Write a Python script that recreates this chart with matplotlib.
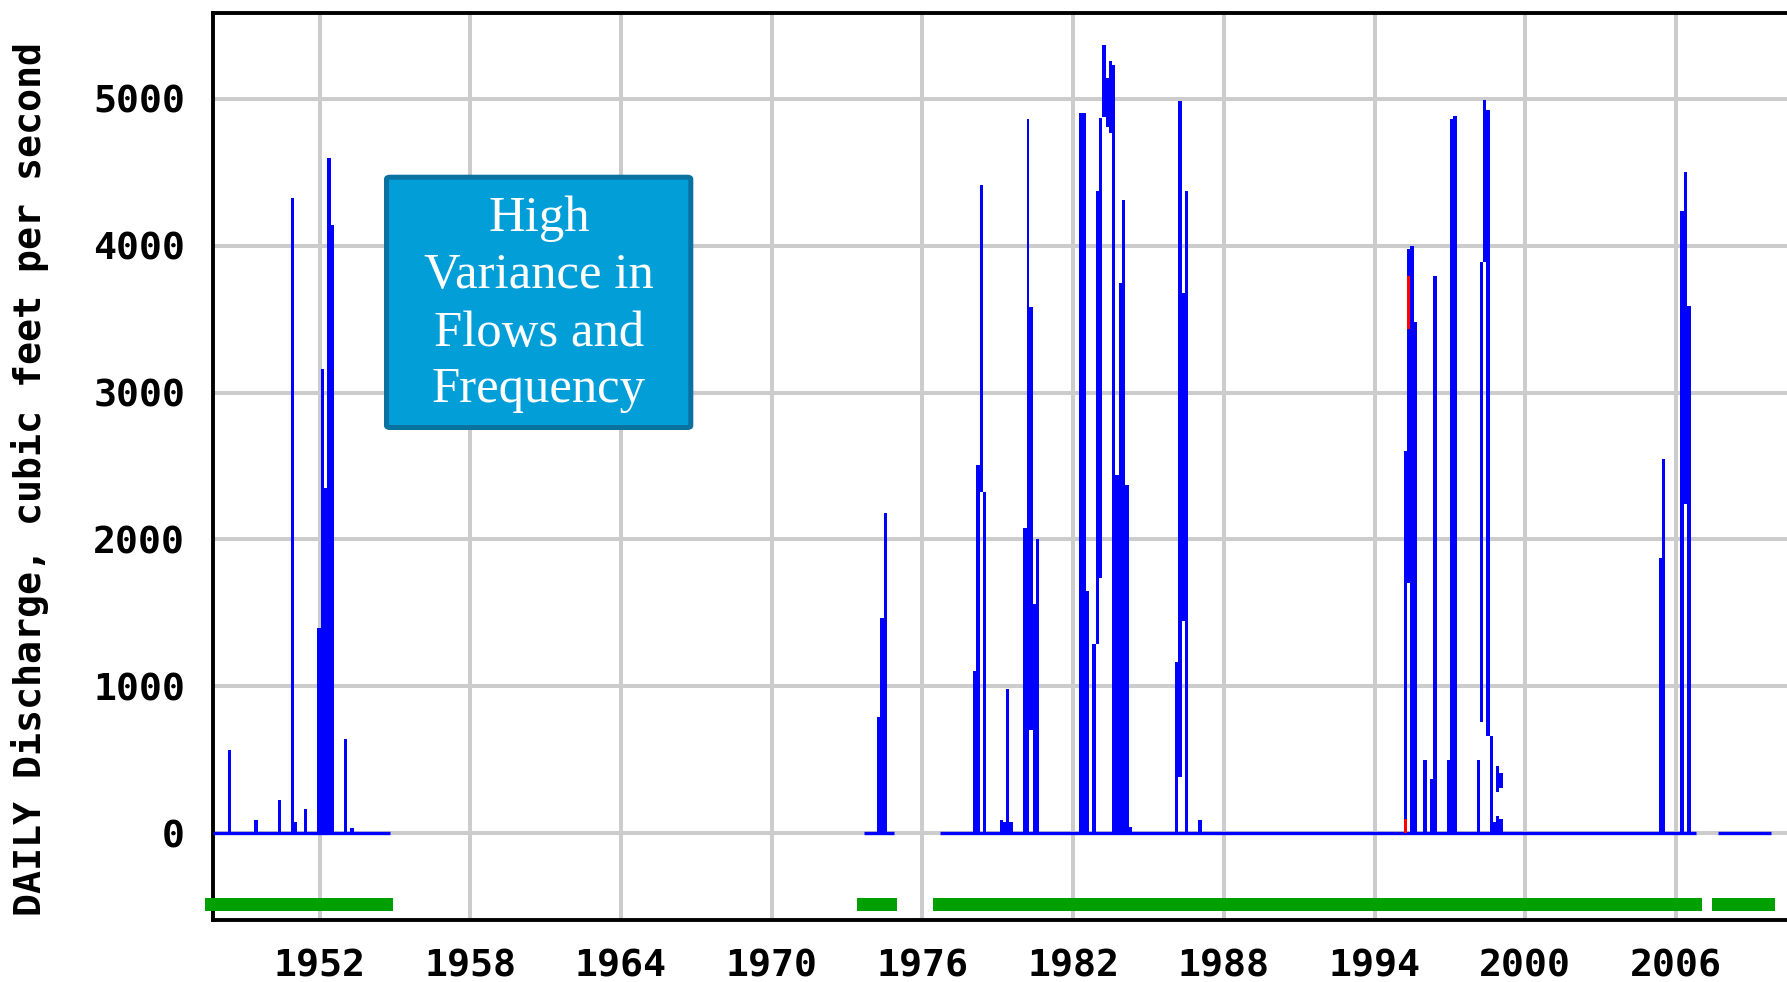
import matplotlib
matplotlib.use("Agg")
import matplotlib.pyplot as plt
from matplotlib.patches import FancyBboxPatch

# ---------------- data ----------------
x_ticks = [1952, 1958, 1964, 1970, 1976, 1982, 1988, 1994, 2000, 2006]
y_ticks = [0, 1000, 2000, 3000, 4000, 5000]

# periods with recorded (zero) daily flow
base_start = [1947.75, 1973.68, 1976.71, 2007.68]
base_end = [1954.80, 1974.87, 2006.81, 2009.79]

# flow events: start (decimal year), end (decimal year),
# daily discharge high (cfs) and low end of the drawn daily swing (cfs)
ev_start = [1948.36, 1949.40, 1950.35, 1950.86, 1950.98, 1951.39,
            1951.90, 1952.06, 1952.17, 1952.30, 1952.46, 1952.98, 1953.22,
            1974.20, 1974.32, 1974.48,
            1978.03, 1978.14, 1978.30, 1978.43, 1979.09, 1979.20, 1979.33, 1979.44,
            1980.00, 1980.16, 1980.25, 1980.41, 1980.53,
            1982.24, 1982.52, 1982.76, 1982.92, 1983.04, 1983.16, 1983.32, 1983.44,
            1983.56, 1983.67, 1983.83, 1983.95, 1984.07, 1984.23,
            1986.06, 1986.18, 1986.34, 1986.46, 1986.98,
            1995.18, 1995.28, 1995.41, 1995.57, 1995.93, 1996.21, 1996.33,
            1996.89, 1997.01, 1997.14,
            1998.06, 1998.21, 1998.33, 1998.45, 1998.61, 1998.73,
            1998.85, 1998.85, 1998.97, 1998.97,
            2005.33, 2005.45, 2006.18, 2006.30, 2006.42]
ev_end = [1948.48, 1949.54, 1950.46, 1950.98, 1951.11, 1951.51,
          1952.06, 1952.17, 1952.30, 1952.46, 1952.57, 1953.10, 1953.38,
          1974.32, 1974.48, 1974.60,
          1978.14, 1978.30, 1978.40, 1978.52, 1979.20, 1979.33, 1979.44, 1979.60,
          1980.16, 1980.25, 1980.41, 1980.53, 1980.65,
          1982.52, 1982.64, 1982.92, 1983.04, 1983.16, 1983.32, 1983.44, 1983.56,
          1983.67, 1983.83, 1983.95, 1984.07, 1984.23, 1984.35,
          1986.18, 1986.34, 1986.46, 1986.58, 1987.14,
          1995.28, 1995.41, 1995.57, 1995.69, 1996.08, 1996.33, 1996.49,
          1997.01, 1997.14, 1997.29,
          1998.21, 1998.33, 1998.45, 1998.61, 1998.73, 1998.85,
          1998.97, 1998.97, 1999.12, 1999.12,
          2005.45, 2005.57, 2006.30, 2006.42, 2006.58]
ev_cfs = [570, 91, 227, 4324, 76, 164,
          1400, 3158, 2348, 4597, 4139, 639, 33,
          794, 1463, 2180,
          1106, 2506, 4415, 2321, 91, 76, 979, 76,
          2076, 4863, 3585, 1561, 2006,
          4900, 1650, 1287, 4373, 4872, 5367, 5143, 5260,
          5232, 2438, 3745, 4312, 2370, 46,
          1169, 4986, 3681, 4373, 89,
          2602, 3977, 3997, 3482, 502, 371, 3793,
          502, 4860, 4880,
          502, 3886, 4990, 4923, 662, 77,
          455, 120, 411, 94,
          1877, 2549, 4236, 4500, 3586]
ev_low = [0, 0, 0, 0, 0, 0,
          0, 0, 0, 0, 0, 0, 0,
          0, 0, 0,
          0, 0, 2321, 0, 0, 0, 0, 0,
          0, 0, 706, 0, 0,
          0, 0, 0, 1287, 1739, 4878, 4810, 4769,
          0, 0, 0, 0, 0, 0,
          0, 385, 1447, 0, 0,
          0, 1706, 0, 0, 0, 0, 0,
          0, 0, 0,
          0, 756, 3886, 662, 0, 0,
          278, 0, 311, 0,
          0, 0, 0, 2239, 0]

# provisional (red) values: start, end, low, high
red_start = [1995.18, 1995.28]
red_end = [1995.28, 1995.41]
red_low = [0, 3432]
red_high = [94, 3793]

# data availability bars
avail_start = [1947.45, 1973.40, 1976.43, 2007.44]
avail_end = [1954.93, 1974.99, 2007.04, 2009.95]

box_lines = ["High", "Variance in", "Flows and", "Frequency"]
y_label = "DAILY Discharge, cubic feet per second"

# ---------------- figure ----------------
W, H = 1787, 982
fig = plt.figure(figsize=(W / 100, H / 100), dpi=100)
ax_l, ax_t, ax_b = 213, 12.7, 919.5
ax = fig.add_axes([ax_l / W, 1 - ax_b / H, 1 - ax_l / W, (ax_b - ax_t) / H])
ax.set_xlim(1947.76, 2010.42)
ax.set_ylim(-587, 5586)

ax.set_xticks(x_ticks)
ax.set_yticks(y_ticks)
ax.set_xticklabels([str(v) for v in x_ticks])
ax.set_yticklabels([str(v) for v in y_ticks])
ax.grid(True, color="#cccccc", linewidth=2.9, zorder=0)
ax.set_axisbelow(True)
for lab in ax.get_xticklabels() + ax.get_yticklabels():
    lab.set_fontfamily("DejaVu Sans Mono")
    lab.set_fontweight("bold")
    lab.set_fontsize(27.5)
ax.tick_params(axis="both", length=0)
ax.tick_params(axis="x", pad=21)
ax.tick_params(axis="y", pad=20)

for side in ["left", "bottom", "top"]:
    ax.spines[side].set_linewidth(2.8)
    ax.spines[side].set_color("black")
ax.spines["right"].set_visible(False)

# baseline zero flow
ax.hlines([0] * len(base_start), base_start, base_end, colors="#0000ff",
          linewidth=2.4, zorder=3, capstyle="butt")
# events
widths = [e - s for s, e in zip(ev_start, ev_end)]
heights = [h - l for h, l in zip(ev_cfs, ev_low)]
ax.bar(ev_start, heights, width=widths, bottom=ev_low, align="edge",
       color="#0000ff", linewidth=0, zorder=3)
# provisional
ax.bar(red_start, [h - l for l, h in zip(red_low, red_high)],
       width=[e - s for s, e in zip(red_start, red_end)], bottom=red_low,
       align="edge", color="#ff0000", linewidth=0, zorder=4)
# availability bars
ax.bar(avail_start, [89] * len(avail_start),
       width=[e - s for s, e in zip(avail_start, avail_end)], bottom=-529,
       align="edge", color="#00a000", linewidth=0, zorder=5, clip_on=False)

# y label
fig.text(30 / W, 1 - 479 / H, y_label, rotation=90, ha="center", va="center",
         family="DejaVu Sans Mono", weight="bold", fontsize=27.5)

# text box
bx0, bx1, by0, by1 = 386.5, 690.8, 177.2, 427.5
box = FancyBboxPatch((bx0 / W, 1 - by1 / H), (bx1 - bx0) / W, (by1 - by0) / H,
                     boxstyle="round,pad=0,rounding_size=0.002",
                     transform=fig.transFigure, facecolor="#029ed8",
                     edgecolor="#0a72a0", linewidth=3.6, zorder=10)
fig.patches.append(box)
baselines = [231, 288.3, 345.7, 402.3]
for txt, yb in zip(box_lines, baselines):
    fig.text(539 / W, 1 - yb / H, txt, ha="center", va="baseline",
             family="Liberation Serif", fontsize=36.5, color="white", zorder=11)

fig.savefig("out.png", dpi=100)
